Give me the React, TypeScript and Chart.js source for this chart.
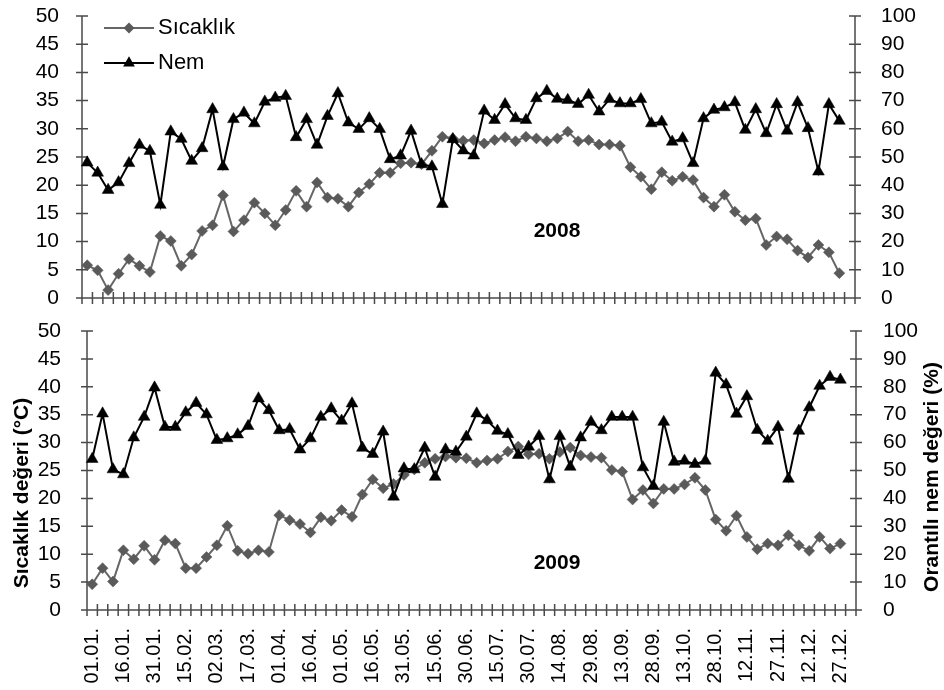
import React, { useEffect, useRef } from 'react';
import { Chart, registerables } from 'chart.js';

Chart.register(...registerables);

// Date labels, one every third 5-day step
const dateLabels = [
  '01.01.', '16.01.', '31.01.', '15.02.', '02.03.', '17.03.', '01.04.', '16.04.',
  '01.05.', '16.05.', '31.05.', '15.06.', '30.06.', '15.07.', '30.07.', '14.08.',
  '29.08.', '13.09.', '28.09.', '13.10.', '28.10.', '12.11.', '27.11.', '12.12.', '27.12.',
];

// 5-day mean temperature (°C), 2008
const temp2008 = [
  5.8, 4.9, 1.4, 4.3, 6.9, 5.7, 4.6, 11.0, 10.1, 5.7, 7.7, 11.9, 12.9, 18.2, 11.8, 13.8,
  16.9, 15.0, 12.9, 15.6, 19.0, 16.2, 20.5, 17.8, 17.6, 16.2, 18.7, 20.2, 22.2, 22.2, 23.9,
  24.0, 23.7, 26.1, 28.6, 28.3, 27.9, 28.0, 27.4, 28.0, 28.5, 27.8, 28.6, 28.3, 27.8, 28.3,
  29.5, 27.8, 28.0, 27.2, 27.2, 27.0, 23.2, 21.5, 19.3, 22.3, 20.8, 21.5, 20.9, 17.8, 16.2,
  18.3, 15.3, 13.8, 14.1, 9.4, 10.9, 10.4, 8.4, 7.2, 9.4, 8.1, 4.4,
];

// 5-day mean relative humidity (%), 2008
const hum2008 = [
  48.0, 44.4, 38.3, 41.0, 47.8, 54.3, 52.1, 33.0, 59.0, 56.4, 48.6, 53.1, 66.9, 46.6, 63.4,
  65.7, 61.9, 69.6, 71.0, 71.6, 57.0, 63.4, 54.3, 64.5, 72.6, 62.2, 59.9, 63.7, 59.9, 49.2,
  50.5, 59.3, 47.4, 46.6, 33.3, 56.3, 52.3, 50.5, 66.4, 63.1, 68.7, 63.7, 63.1, 70.8, 73.4,
  70.6, 70.2, 68.8, 72.0, 66.1, 70.5, 69.0, 69.0, 70.5, 61.9, 62.5, 55.4, 56.6, 47.8, 63.7,
  66.7, 67.6, 69.4, 59.6, 66.9, 58.4, 68.7, 59.3, 69.4, 60.2, 44.8, 68.7, 62.8,
];

// 5-day mean temperature (°C), 2009
const temp2009 = [
  4.6, 7.5, 5.1, 10.7, 9.1, 11.5, 9.0, 12.5, 11.9, 7.5, 7.5, 9.5, 11.6, 15.1, 10.6, 10.1,
  10.7, 10.4, 17.0, 16.1, 15.4, 13.9, 16.6, 16.0, 17.9, 16.7, 20.7, 23.4, 21.8, 22.6, 24.2,
  25.2, 26.4, 27.1, 27.5, 27.3, 27.2, 26.4, 26.8, 27.1, 28.4, 29.3, 27.9, 28.0, 27.1, 28.3,
  29.1, 27.7, 27.4, 27.3, 25.1, 24.8, 19.8, 21.5, 19.1, 21.7, 21.7, 22.5, 23.7, 21.5, 16.2,
  14.2, 16.9, 13.1, 10.9, 11.9, 11.6, 13.4, 11.6, 10.6, 13.1, 11.0, 11.9,
];

// 5-day mean relative humidity (%), 2009
const hum2009 = [
  54.1, 70.4, 50.4, 48.6, 61.8, 69.2, 79.7, 65.6, 65.6, 70.8, 74.2, 70.1, 60.9, 61.5, 62.9,
  65.9, 75.8, 71.6, 64.4, 64.8, 57.5, 61.5, 69.2, 72.2, 67.8, 74.0, 58.1, 55.9, 63.9, 40.6,
  50.7, 50.4, 58.1, 47.7, 57.5, 56.7, 62.1, 70.4, 68.0, 64.2, 63.0, 55.5, 58.5, 62.3, 46.8,
  62.3, 51.3, 61.8, 67.4, 64.4, 69.2, 69.2, 69.2, 51.1, 44.4, 67.4, 53.1, 53.5, 52.3, 53.5,
  85.0, 80.8, 70.3, 76.6, 64.5, 60.6, 65.6, 47.0, 64.2, 72.6, 80.3, 83.5, 82.5,
];

const seriesNames = ['Sıcaklık', 'Nem'];
const leftTitle = 'Sıcaklık değeri (°C)';
const rightTitle = 'Orantılı nem değeri (%)';

// 74 category slots (one trailing empty slot), labelled every third step
const SLOTS = 74;
const categories = Array.from({ length: SLOTS }, (_, i) =>
  i % 3 === 0 && i / 3 < dateLabels.length ? dateLabels[i / 3] : ''
);

const FONT = "'Liberation Sans', Arial, Helvetica, sans-serif";
const TEMP_LINE = '#666666';
const TEMP_MARK = '#5a5a5a';
const AXIS = '#4a4a4a';
const W = 944;

function drawDiamond(ctx: CanvasRenderingContext2D, x: number, y: number, r: number) {
  ctx.beginPath();
  ctx.moveTo(x - r, y);
  ctx.lineTo(x, y - r);
  ctx.lineTo(x + r, y);
  ctx.lineTo(x, y + r);
  ctx.closePath();
  ctx.fill();
}

function drawTriangle(ctx: CanvasRenderingContext2D, x: number, y: number, r: number) {
  const h = (Math.sqrt(3) / 2) * r;
  ctx.beginPath();
  ctx.moveTo(x, y - r);
  ctx.lineTo(x + h, y + r / 2);
  ctx.lineTo(x - h, y + r / 2);
  ctx.closePath();
  ctx.fill();
}

// Axis lines with tick marks crossing each axis
const crossAxesPlugin = {
  id: 'crossAxes',
  beforeDatasetsDraw(chart: any) {
    const { ctx, chartArea } = chart;
    const { left, right, bottom } = chartArea;
    const xs = chart.scales.x;
    const ys = chart.scales.y;
    const y1 = chart.scales.y1;
    const t = 6;
    ctx.save();
    ctx.strokeStyle = AXIS;
    ctx.lineWidth = 1.5;
    ctx.beginPath();
    ctx.moveTo(left, chartArea.top);
    ctx.lineTo(left, bottom);
    ctx.lineTo(right, bottom);
    ctx.lineTo(right, chartArea.top);
    // left axis ticks
    ys.ticks.forEach((tk: any) => {
      const py = ys.getPixelForValue(tk.value);
      ctx.moveTo(left - t, py);
      ctx.lineTo(left + t, py);
    });
    // right axis ticks
    y1.ticks.forEach((tk: any) => {
      const py = y1.getPixelForValue(tk.value);
      ctx.moveTo(right - t, py);
      ctx.lineTo(right + t, py);
    });
    // category boundaries on the x axis
    const half = (xs.getPixelForValue(1) - xs.getPixelForValue(0)) / 2;
    for (let i = 0; i <= categories.length; i++) {
      const px = i < categories.length ? xs.getPixelForValue(i) - half : xs.getPixelForValue(i - 1) + half;
      ctx.moveTo(px, bottom - t);
      ctx.lineTo(px, bottom + t);
    }
    ctx.stroke();
    ctx.restore();
  },
};

interface PanelOpts {
  temp: number[];
  hum: number[];
  year: string;
  yearPos: [number, number];
  showX: boolean;
  showTitles: boolean;
  showLegend: boolean;
  leftW: number;
  rightW: number;
  leftPad: number;
  rightPad: number;
  topPad: number;
  xH: number;
  height: number;
  titleY: [number, number];
}

function makeDecorPlugin(o: PanelOpts) {
  return {
    id: 'decor',
    afterDraw(chart: any) {
      const { ctx } = chart;
      ctx.save();
      ctx.fillStyle = '#000';
      ctx.textBaseline = 'middle';
      // year label
      ctx.font = `bold 21px ${FONT}`;
      ctx.textAlign = 'center';
      ctx.fillText(o.year, o.yearPos[0], o.yearPos[1]);

      if (o.showLegend) {
        const rows: [number, string, string][] = [
          [28, seriesNames[0], 'd'],
          [63, seriesNames[1], 't'],
        ];
        rows.forEach(([ly, name, kind]) => {
          ctx.lineWidth = 2;
          ctx.strokeStyle = kind === 'd' ? TEMP_LINE : '#000';
          ctx.beginPath();
          ctx.moveTo(104, ly);
          ctx.lineTo(154, ly);
          ctx.stroke();
          if (kind === 'd') {
            ctx.fillStyle = TEMP_MARK;
            drawDiamond(ctx, 129, ly, 5.5);
          } else {
            ctx.fillStyle = '#000';
            drawTriangle(ctx, 129, ly, 6.8);
          }
          ctx.fillStyle = '#000';
          ctx.font = `22px ${FONT}`;
          ctx.textAlign = 'left';
          ctx.fillText(name, 158, ly);
        });
      }

      if (o.showTitles) {
        ctx.font = `bold 21px ${FONT}`;
        ctx.textAlign = 'center';
        ctx.save();
        ctx.translate(22, o.titleY[0]);
        ctx.rotate(-Math.PI / 2);
        ctx.fillText(leftTitle, 0, 0);
        ctx.restore();
        ctx.save();
        ctx.translate(932, o.titleY[1]);
        ctx.rotate(-Math.PI / 2);
        ctx.fillText(rightTitle, 0, 0);
        ctx.restore();
      }
      ctx.restore();
    },
  };
}

function Panel(o: PanelOpts) {
  const ref = useRef<HTMLCanvasElement | null>(null);
  useEffect(() => {
    if (!ref.current) return;
    const tickFont = { family: FONT, size: 21 };
    const chart = new Chart(ref.current, {
      type: 'line',
      data: {
        labels: categories,
        datasets: [
          {
            label: seriesNames[1],
            data: o.hum,
            yAxisID: 'y1',
            borderColor: '#000',
            backgroundColor: '#000',
            borderWidth: 2,
            pointStyle: 'triangle',
            pointRadius: 6.8,
            pointBorderWidth: 0.5,
            pointBackgroundColor: '#000',
            pointBorderColor: '#000',
            tension: 0,
            order: 0,
          },
          {
            label: seriesNames[0],
            data: o.temp,
            yAxisID: 'y',
            borderColor: TEMP_LINE,
            backgroundColor: TEMP_MARK,
            borderWidth: 2,
            pointStyle: 'rectRot',
            pointRadius: 5.5,
            pointBorderWidth: 0.5,
            pointBackgroundColor: TEMP_MARK,
            pointBorderColor: TEMP_MARK,
            tension: 0,
            order: 1,
          },
        ],
      },
      options: {
        responsive: false,
        animation: false,
        devicePixelRatio: 1,
        events: [],
        layout: { padding: { top: o.topPad, left: 0, right: 0, bottom: 0 } },
        plugins: { legend: { display: false }, tooltip: { enabled: false } },
        scales: {
          x: {
            type: 'category',
            offset: true,
            grid: { display: false, offset: true },
            border: { display: false },
            ticks: {
              display: o.showX,
              autoSkip: false,
              maxRotation: 90,
              minRotation: 90,
              padding: 10,
              color: '#000',
              font: { family: FONT, size: 20 },
            },
            afterFit: (s: any) => {
              s.height = o.xH;
              s.paddingLeft = 0;
              s.paddingRight = 0;
            },
          },
          y: {
            position: 'left',
            min: 0,
            max: 50,
            grid: { display: false },
            border: { display: false },
            ticks: { stepSize: 5, autoSkip: false, padding: o.leftPad, color: '#000', font: tickFont },
            afterFit: (s: any) => {
              s.width = o.leftW;
              s.paddingTop = 0;
              s.paddingBottom = 0;
            },
          },
          y1: {
            position: 'right',
            min: 0,
            max: 100,
            grid: { display: false },
            border: { display: false },
            ticks: { stepSize: 10, autoSkip: false, padding: o.rightPad, color: '#000', font: tickFont },
            afterFit: (s: any) => {
              s.width = o.rightW;
              s.paddingTop = 0;
              s.paddingBottom = 0;
            },
          },
        },
      } as any,
      plugins: [crossAxesPlugin, makeDecorPlugin(o)],
    });
    return () => chart.destroy();
  }, []);
  return <canvas ref={ref} width={W} height={o.height} style={{ display: 'block' }} />;
}

export default function App() {
  return (
    <div style={{ position: 'absolute', left: 0, top: 0, width: W, height: 690, background: '#fff' }}>
      <Panel
        temp={temp2008}
        hum={hum2008}
        year="2008"
        yearPos={[557, 231]}
        showX={false}
        showTitles={false}
        showLegend={true}
        leftW={82}
        rightW={89}
        leftPad={15}
        rightPad={18}
        topPad={16}
        xH={16}
        height={314}
        titleY={[0, 0]}
      />
      <Panel
        temp={temp2009}
        hum={hum2009}
        year="2009"
        yearPos={[557, 249]}
        showX={true}
        showTitles={true}
        showLegend={false}
        leftW={87}
        rightW={88}
        leftPad={18}
        rightPad={19}
        topPad={17}
        xH={80}
        height={376}
        titleY={[179, 163]}
      />
    </div>
  );
}
